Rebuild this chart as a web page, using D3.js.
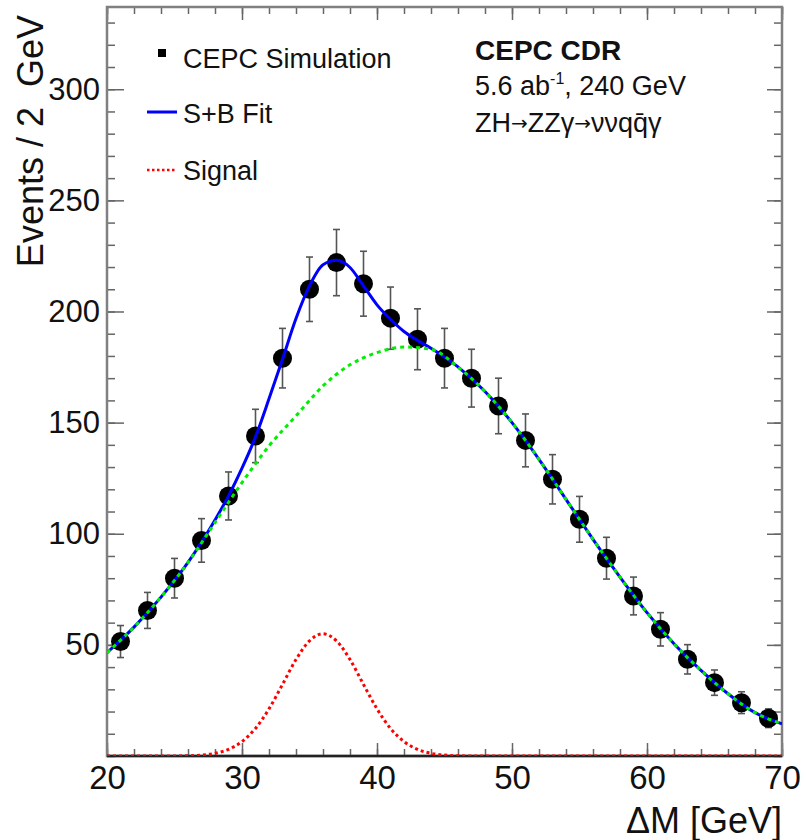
<!DOCTYPE html>
<html>
<head>
<meta charset="utf-8">
<script src="https://cdn.jsdelivr.net/npm/d3@7"></script>
<style>
body { margin: 0; background: #fff; }
text { font-family: "Liberation Sans", Arial, Helvetica, sans-serif; fill: #111; }
</style>
</head>
<body>
<div id="chart"></div>
<script>
// data
var binCenters = [21, 23, 25, 27, 29, 31, 33, 35, 37, 39, 41, 43, 45, 47, 49, 51, 53, 55, 57, 59, 61, 63, 65, 67, 69];
var events = [51.5, 65.5, 80, 97, 117, 144, 179, 210, 222, 212.5, 197, 187.5, 179, 170, 157.5, 142, 124.5, 106.5, 89, 72, 57, 43.5, 33, 24, 17];
var errors = [7.2, 8.1, 8.9, 9.8, 10.8, 12, 13.4, 14.5, 14.9, 14.6, 14, 13.7, 13.4, 13, 12.5, 11.9, 11.1, 10.3, 9.4, 8.5, 7.5, 6.6, 5.7, 4.9, 4.2];

var bkgX = [20, 22, 24, 26, 28, 30, 32, 34, 36, 38, 40, 42, 44, 46, 48, 50, 52, 54, 56, 58, 60, 62, 64, 66, 68, 70];
var bkgY = [46.5, 58, 71.5, 87, 105, 123, 139.5, 153, 166.5, 176, 181.5, 184, 183, 175, 164, 150, 133.5, 115.5, 97.5, 80.5, 64.5, 50.5, 38.5, 28, 19.5, 14.5];

var fitX = [20, 22, 24, 26, 28, 29, 30, 31, 32, 33, 34, 35, 36, 37, 38, 39, 40, 41, 42, 43, 44, 46, 48, 50, 52, 54, 56, 58, 60, 62, 64, 66, 68, 70];
var fitY = [46.5, 58, 71.5, 87.1, 106.2, 117, 129.5, 143.6, 160.7, 178.5, 196.8, 211.5, 221, 223, 219.8, 211.5, 203, 196.5, 191, 187, 183.5, 175.1, 164, 150, 133.5, 115.5, 97.5, 80.5, 64.5, 50.5, 38.5, 28, 19.5, 14.5];

var sigX = [20, 24, 26, 27, 28, 29, 30, 31, 32, 33, 34, 35, 36, 37, 38, 39, 40, 41, 42, 43, 44, 45, 46, 48, 70];
var sigY = [0, 0, 0.1, 0.4, 1.2, 3, 6.5, 12.4, 21.2, 32.2, 43.4, 51.8, 55, 51.8, 43.4, 32.2, 21.2, 12.4, 6.5, 3, 1.2, 0.4, 0.1, 0, 0];

var xMajor = [20, 30, 40, 50, 60, 70];
var yMajor = [50, 100, 150, 200, 250, 300];

var margin = {top: 7, right: 24, bottom: 84, left: 107};
var width = 806 - margin.left - margin.right,
    height = 840 - margin.top - margin.bottom;

var svg = d3.select("#chart").append("svg")
    .attr("width", 806)
    .attr("height", 840);

var g = svg.append("g")
    .attr("transform", "translate(" + margin.left + "," + margin.top + ")");

var x = d3.scaleLinear().domain([20, 70]).range([0, width]);
var y = d3.scaleLinear().domain([0, 337]).range([height, 0]);

g.append("clipPath").attr("id", "plotclip")
  .append("rect").attr("width", width).attr("height", height);

// ticks (ROOT style, pointing inward, on all four sides)
var tickCol = "#666";
function styleAxis(sel) {
    sel.select(".domain").remove();
    sel.selectAll(".tick line").attr("stroke", tickCol).attr("stroke-width", 1.5);
    sel.selectAll("text").style("font-size", "32px").attr("fill", "#111");
}

g.append("g").attr("transform", "translate(0," + height + ")")
    .call(d3.axisBottom(x).tickValues(d3.range(20, 71, 2)).tickSize(-7).tickFormat(""))
    .call(styleAxis);
g.append("g").attr("transform", "translate(0," + height + ")")
    .call(d3.axisBottom(x).tickValues(xMajor).tickSize(-13).tickPadding(10).tickFormat(d3.format("d")))
    .call(styleAxis)
    .selectAll("text").style("font-size", "33px");
g.append("g")
    .call(d3.axisTop(x).tickValues(d3.range(20, 71, 2)).tickSize(-7).tickFormat(""))
    .call(styleAxis);
g.append("g")
    .call(d3.axisTop(x).tickValues(xMajor).tickSize(-13).tickFormat(""))
    .call(styleAxis);

g.append("g")
    .call(d3.axisLeft(y).tickValues(d3.range(0, 337, 10)).tickSize(-8).tickFormat(""))
    .call(styleAxis);
g.append("g")
    .call(d3.axisLeft(y).tickValues(yMajor).tickSize(-17).tickPadding(7).tickFormat(d3.format("d")))
    .call(styleAxis)
    .selectAll("text").style("font-size", "31px");
g.append("g").attr("transform", "translate(" + width + ",0)")
    .call(d3.axisRight(y).tickValues(d3.range(0, 337, 10)).tickSize(-8).tickFormat(""))
    .call(styleAxis);
g.append("g").attr("transform", "translate(" + width + ",0)")
    .call(d3.axisRight(y).tickValues(yMajor).tickSize(-15).tickFormat(""))
    .call(styleAxis);

// frame
g.append("rect")
    .attr("width", width)
    .attr("height", height)
    .attr("fill", "none")
    .attr("stroke", "#808080")
    .attr("stroke-width", 2.5);
g.append("line")
    .attr("x1", 0).attr("x2", width)
    .attr("y1", height).attr("y2", height)
    .attr("stroke", "#222")
    .attr("stroke-width", 2.5);

// data points with error bars
var pts = binCenters.map(function(c, i) { return {x: c, y: events[i], e: errors[i]}; });
var plot = g.append("g").attr("clip-path", "url(#plotclip)");

var bars = plot.selectAll(".err").data(pts).enter().append("g").attr("class", "err")
    .attr("stroke", "#555").attr("stroke-width", 1.6);
bars.append("line")
    .attr("x1", d => x(d.x)).attr("x2", d => x(d.x))
    .attr("y1", d => y(d.y - d.e)).attr("y2", d => y(d.y + d.e));
bars.append("line")
    .attr("x1", d => x(d.x) - 3.5).attr("x2", d => x(d.x) + 3.5)
    .attr("y1", d => y(d.y - d.e)).attr("y2", d => y(d.y - d.e));
bars.append("line")
    .attr("x1", d => x(d.x) - 3.5).attr("x2", d => x(d.x) + 3.5)
    .attr("y1", d => y(d.y + d.e)).attr("y2", d => y(d.y + d.e));

plot.selectAll(".pt").data(pts).enter().append("circle")
    .attr("class", "pt")
    .attr("cx", d => x(d.x))
    .attr("cy", d => y(d.y))
    .attr("r", 9.5)
    .attr("fill", "#000");

// curves
var line = d3.line()
    .x(d => x(d[0]))
    .y(d => y(d[1]))
    .curve(d3.curveMonotoneX);

plot.append("path")
    .datum(sigX.map((v, i) => [v, sigY[i]]))
    .attr("d", line)
    .attr("fill", "none")
    .attr("stroke", "#ff0000")
    .attr("stroke-width", 3)
    .attr("stroke-dasharray", "3,3");

plot.append("path")
    .datum(fitX.map((v, i) => [v, fitY[i]]))
    .attr("d", line)
    .attr("fill", "none")
    .attr("stroke", "#0000ff")
    .attr("stroke-width", 3);

plot.append("path")
    .datum(bkgX.map((v, i) => [v, bkgY[i]]))
    .attr("d", line)
    .attr("fill", "none")
    .attr("stroke", "#00ee00")
    .attr("stroke-width", 3)
    .attr("stroke-dasharray", "4,4");

// axis titles
svg.append("text")
    .attr("transform", "translate(43,15) rotate(-90)")
    .attr("text-anchor", "end")
    .style("font-size", "36px")
    .style("white-space", "pre")
    .text("Events / 2\u00a0 GeV");

svg.append("text")
    .attr("x", 782)
    .attr("y", 833)
    .attr("text-anchor", "end")
    .style("font-size", "36px")
    .text("\u0394M [GeV]");

// legend
var legend = svg.append("g");
legend.append("rect")
    .attr("x", 158).attr("y", 49)
    .attr("width", 8).attr("height", 8)
    .attr("fill", "#000");
legend.append("line")
    .attr("x1", 147).attr("x2", 177)
    .attr("y1", 112).attr("y2", 112)
    .attr("stroke", "#0000ff").attr("stroke-width", 3);
legend.append("line")
    .attr("x1", 147).attr("x2", 175)
    .attr("y1", 170).attr("y2", 170)
    .attr("stroke", "#ff0000").attr("stroke-width", 2.5)
    .attr("stroke-dasharray", "2.5,2.5");
var legendText = ["CEPC Simulation", "S+B Fit", "Signal"];
legend.selectAll(".lt").data(legendText).enter().append("text")
    .attr("x", 183)
    .attr("y", (d, i) => [68, 123, 180][i])
    .style("font-size", "27px")
    .text(d => d);

// labels on the right
svg.append("text")
    .attr("x", 475).attr("y", 60)
    .style("font-size", "28px")
    .style("font-weight", "bold")
    .text("CEPC CDR");

var lumi = svg.append("text")
    .attr("x", 475).attr("y", 95)
    .style("font-size", "27px");
lumi.append("tspan").text("5.6 ab");
lumi.append("tspan").attr("dy", -11).style("font-size", "16px").text("-1");
lumi.append("tspan").attr("dy", 11).text(", 240 GeV");

var decay = svg.append("text")
    .attr("x", 475).attr("y", 132)
    .style("font-size", "27px");
decay.append("tspan").text("ZH");
decay.append("tspan").style("font-family", "DejaVu Sans").style("font-size", "20px").attr("dy", -2).text("\u2192");
decay.append("tspan").attr("dy", 2).text("ZZ\u03b3");
decay.append("tspan").style("font-family", "DejaVu Sans").style("font-size", "20px").attr("dy", -2).text("\u2192");
decay.append("tspan").attr("dy", 2).text("\u03bd\u03bdq");
decay.append("tspan").text("q\u0304\u03b3");
</script>
</body>
</html>
